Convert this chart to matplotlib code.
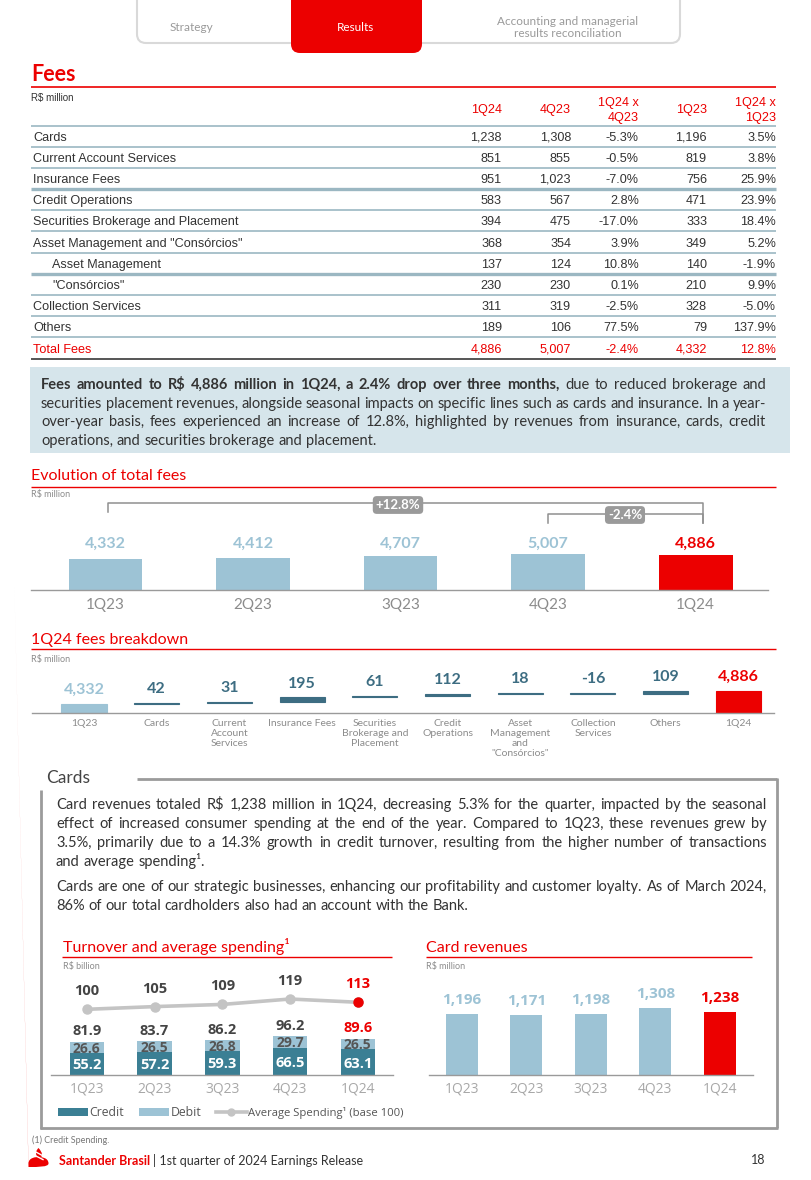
import matplotlib
matplotlib.use('Agg')
import matplotlib.pyplot as plt
from matplotlib.patches import FancyBboxPatch, Rectangle, Ellipse, PathPatch
from matplotlib.path import Path
from matplotlib import font_manager
import numpy as np

plt.rcParams['text.parse_math'] = False

# ------------------------------------------------------------------ data
table_cols = ['1Q24', '4Q23', '1Q24 x\n4Q23', '1Q23', '1Q24 x\n1Q23']
table_rows = ['Cards', 'Current Account Services', 'Insurance Fees', 'Credit Operations',
              'Securities Brokerage and Placement', 'Asset Management and "Consórcios"',
              'Asset Management', '"Consórcios"', 'Collection Services', 'Others', 'Total Fees']
row_indent = [0, 0, 0, 0, 0, 0, 1, 1, 0, 0, 0]
fees_1q24 = [1238, 851, 951, 583, 394, 368, 137, 230, 311, 189, 4886]
fees_4q23 = [1308, 855, 1023, 567, 475, 354, 124, 230, 319, 106, 5007]
var_qoq = [-5.3, -0.5, -7.0, 2.8, -17.0, 3.9, 10.8, 0.1, -2.5, 77.5, -2.4]
fees_1q23 = [1196, 819, 756, 471, 333, 349, 140, 210, 328, 79, 4332]
var_yoy = [3.5, 3.8, 25.9, 23.9, 18.4, 5.2, -1.9, 9.9, -5.0, 137.9, 12.8]

evo_quarters = ['1Q23', '2Q23', '3Q23', '4Q23', '1Q24']
evo_values = [4332, 4412, 4707, 5007, 4886]
evo_yoy_label = '+12.8%'
evo_qoq_label = '-2.4%'

bd_labels = ['1Q23', 'Cards', 'Current\nAccount\nServices', 'Insurance Fees',
             'Securities\nBrokerage and\nPlacement', 'Credit\nOperations',
             'Asset\nManagement\nand\n"Consórcios"', 'Collection\nServices', 'Others', '1Q24']
bd_start = 4332
bd_deltas = [42, 31, 195, 61, 112, 18, -16, 109]
bd_end = 4886

turn_quarters = ['1Q23', '2Q23', '3Q23', '4Q23', '1Q24']
turn_credit = [55.2, 57.2, 59.3, 66.5, 63.1]
turn_debit = [26.6, 26.5, 26.8, 29.7, 26.5]
turn_total = [81.9, 83.7, 86.2, 96.2, 89.6]
avg_spending = [100, 105, 109, 119, 113]

rev_quarters = ['1Q23', '2Q23', '3Q23', '4Q23', '1Q24']
card_revenues = [1196, 1171, 1198, 1308, 1238]

# ------------------------------------------------------------------ style
W, H = 812, 1180
RED = '#ec0000'
LIGHT = '#9dc3d5'
TEAL = '#3b7f94'
DTEAL = '#3d6d82'
GRAYTXT = '#8c8c8c'
TXT = '#333333'

_names = {f.name for f in font_manager.fontManager.ttflist}
if 'Liberation Sans Narrow' in _names:
    NARROW, TSIZE = 'Liberation Sans Narrow', 10.2
else:
    NARROW, TSIZE = 'Liberation Sans', 9.1
HEAD = 'Lato'
BODY = 'Lato'
NUM = 'Open Sans'

fig = plt.figure(figsize=(W / 100, H / 100), dpi=100)
fig.patch.set_facecolor('white')
ov = fig.add_axes([0, 0, 1, 1])
ov.set_xlim(0, W)
ov.set_ylim(H, 0)
ov.axis('off')
renderer = fig.canvas.get_renderer()


def T(x, y, s, size=9, color=TXT, ha='left', va='mid', weight='normal', family=BODY, **kw):
    # 'mid' = baseline placed so that the cap/digit height is centred on y
    if va == 'mid':
        y = y + size * 100 / 72 * 0.36
        va = 'baseline'
    return ov.text(x, y, s, fontsize=size, color=color, ha=ha, va=va, fontweight=weight,
                   family=family, **kw)


def hline(x0, x1, y, color, lw=1.0):
    ov.plot([x0, x1], [y, y], color=color, lw=lw, solid_capstyle='butt')


def vline(x, y0, y1, color, lw=1.0):
    ov.plot([x, x], [y0, y1], color=color, lw=lw, solid_capstyle='butt')


def ax_at(x0, y0, x1, y1):
    a = fig.add_axes([x0 / W, 1 - y1 / H, (x1 - x0) / W, (y1 - y0) / H])
    a.patch.set_visible(False)
    for s in ['top', 'right', 'left']:
        a.spines[s].set_visible(False)
    a.spines['bottom'].set_color('#9a9a9a')
    a.spines['bottom'].set_linewidth(1.0)
    a.set_yticks([])
    a.tick_params(axis='x', length=0)
    return a


def measure(s, size, weight, family):
    t = ov.text(0, 0, s, fontsize=size, fontweight=weight, family=family)
    w = t.get_window_extent(renderer).width
    t.remove()
    return w


def justify(lines, x0, x1, y0, dy, size, family=BODY, color=TXT):
    while True:
        sp = measure('a a', size, 'normal', family) - measure('aa', size, 'normal', family)
        ok = True
        for words in lines:
            tot = sum(measure(w, size, wt, family) for w, wt in words)
            if tot + 0.7 * sp * (len(words) - 1) > (x1 - x0):
                ok = False
                break
        if ok:
            break
        size -= 0.1
    for li, words in enumerate(lines):
        y = y0 + li * dy
        widths = [measure(w, size, wt, family) for w, wt in words]
        if li == len(lines) - 1:
            gap = sp
        else:
            gap = (x1 - x0 - sum(widths)) / max(1, len(words) - 1)
        x = x0
        for (w, wt), wd in zip(words, widths):
            T(x, y, w, size, color, weight=wt, family=family)
            x += wd + gap


def words_of(s, weight='normal'):
    return [(w, weight) for w in s.split()]


# ------------------------------------------------------------------ header tabs
ov.add_patch(FancyBboxPatch((137, -14), 543, 57, boxstyle='round,pad=0,rounding_size=9',
                            fc='white', ec='#d9d9d9', lw=1.5))
ov.add_patch(FancyBboxPatch((291, -14), 131, 67, boxstyle='round,pad=0,rounding_size=9',
                            fc=RED, ec='none'))
T(191, 27, 'Strategy', 8.5, '#9a9a9a', ha='center')
T(356, 27, 'Results', 8.5, 'white', ha='center')
T(568, 21, 'Accounting and managerial', 8.5, '#9a9a9a', ha='center')
T(568, 33, 'results reconciliation', 8.5, '#9a9a9a', ha='center')

# ------------------------------------------------------------------ table
T(31, 73, 'Fees', 15.5, RED, weight='bold', family=HEAD)
hline(31, 776, 86.5, RED, 1.2)
T(31, 97, 'R$ million', 7, TXT, family=NARROW)
col_right = [502, 571, 639, 707, 776]
for c, r in zip(table_cols, col_right):
    parts = c.split('\n')
    if len(parts) == 1:
        T(r, 108.5, parts[0], TSIZE, RED, ha='right', family=NARROW)
    else:
        T(r, 101, parts[0], TSIZE, RED, ha='right', family=NARROW)
        T(r, 116, parts[1], TSIZE, RED, ha='right', family=NARROW)
hline(31, 776, 125.5, '#9bb7c2', 1.2)
ry0, rdy = 136, 21.2
for i, lab in enumerate(table_rows):
    y = ry0 + i * rdy
    col = RED if i == len(table_rows) - 1 else TXT
    T(33 + 19 * row_indent[i], y, lab, TSIZE, col, family=NARROW)
    vals = [f'{fees_1q24[i]:,}', f'{fees_4q23[i]:,}', f'{var_qoq[i]:.1f}%',
            f'{fees_1q23[i]:,}', f'{var_yoy[i]:.1f}%']
    for v, r in zip(vals, col_right):
        T(r, y, v, TSIZE, col, ha='right', family=NARROW)
    if i < len(table_rows) - 1:
        lw = 2.4 if i in (2, 6) else 1.2
        hline(31, 776, y + rdy / 2, '#9bb7c2', lw)
hline(31, 776, ry0 + 10.5 * rdy, '#555555', 1.4)

# ------------------------------------------------------------------ blue box text
ov.add_patch(Rectangle((30, 367), 760, 86, fc='#d6e5eb', ec='none'))
box_lines = [
    words_of('Fees amounted to R$ 4,886 million in 1Q24, a 2.4% drop over three months,', 'bold')
    + words_of('due to reduced brokerage and'),
    words_of('securities placement revenues, alongside seasonal impacts on specific lines such '
             'as cards and insurance. In a year-'),
    words_of('over-year basis, fees experienced an increase of 12.8%, highlighted by revenues '
             'from insurance, cards, credit'),
    words_of('operations, and securities brokerage and placement.'),
]
justify(box_lines, 41, 766, 384, 18.5, 10.5)

# ------------------------------------------------------------------ evolution of total fees
T(31, 474, 'Evolution of total fees', 11.5, RED, family=HEAD)
hline(31, 776, 486.5, RED, 1.0)
T(31, 494, 'R$ million', 6.5, GRAYTXT)
ax1 = ax_at(31, 500, 768, 590)
x = np.arange(len(evo_values))
cols = [LIGHT] * (len(evo_values) - 1) + [RED]
ax1.bar(x, evo_values, width=0.5, color=cols)
ax1.set_xlim(-0.505, 4.49)
ax1.set_ylim(143, 143 + 90 / 0.0074)
for i, v in enumerate(evo_values):
    ax1.text(i, 0.53, f'{v:,}', transform=ax1.get_xaxis_transform(), ha='center',
             va='center_baseline', fontsize=11.5, fontweight='bold', color=cols[i], family=HEAD)
ax1.set_xticks(x, evo_quarters)
ax1.tick_params(axis='x', pad=6, labelsize=11, labelcolor=GRAYTXT)
for t in ax1.get_xticklabels():
    t.set_family(HEAD)
# brackets
BR = '#8f8f8f'
ov.plot([108, 108, 703, 703], [512, 503, 503, 523], color=BR, lw=1.1)
ov.plot([548, 548, 703, 703], [523, 514, 514, 523], color=BR, lw=1.1)
ov.text(398, 505, evo_yoy_label, fontsize=9.5, color='white', ha='center', va='center',
        fontweight='bold', family=HEAD,
        bbox=dict(boxstyle='round,pad=0.22,rounding_size=0.3', fc='#9a9a9a', ec='none'))
ov.text(625, 515, evo_qoq_label, fontsize=9.5, color='white', ha='center', va='center',
        fontweight='bold', family=HEAD,
        bbox=dict(boxstyle='round,pad=0.22,rounding_size=0.3', fc='#9a9a9a', ec='none'))

# ------------------------------------------------------------------ breakdown waterfall
T(31, 638, '1Q24 fees breakdown', 11.5, RED, family=HEAD)
hline(31, 776, 648.5, RED, 1.0)
T(31, 659, 'R$ million', 6.5, GRAYTXT)
ax2 = ax_at(32, 663, 774, 713)
n = len(bd_labels)
cum = np.concatenate([[bd_start], bd_start + np.cumsum(bd_deltas)])
bottoms = [0] + list(cum[:-1]) + [0]
heights = [bd_start] + list(bd_deltas) + [bd_end]
bcols = [LIGHT] + [DTEAL] * len(bd_deltas) + [RED]
xb = np.arange(n)
ax2.bar(xb, heights, bottom=bottoms, width=0.62, color=bcols, edgecolor=bcols, linewidth=0.8)
ax2.set_xlim(-0.715, 9.49)
ax2.set_ylim(3911, 3911 + 50 / 0.02256)
for i in range(n):
    top = max(bottoms[i], bottoms[i] + heights[i])
    ax2.annotate(f'{heights[i]:,}', (i, top), xytext=(0, 11), textcoords='offset points',
                 ha='center', va='center_baseline', fontsize=11.5, fontweight='bold',
                 color=bcols[i], family=HEAD, annotation_clip=False)
ax2.set_xticks(xb, bd_labels)
ax2.tick_params(axis='x', pad=4, labelsize=7.5, labelcolor=GRAYTXT)
for t in ax2.get_xticklabels():
    t.set_family(HEAD)
    t.set_linespacing(1.15)

# ------------------------------------------------------------------ cards section
BOXC = '#9b9b9b'
T(46, 777, 'Cards', 12.5, '#444444', family=HEAD)
hline(137, 777, 779, BOXC, 2)
vline(777, 778, 1128, BOXC, 2)
hline(40, 778, 1128, BOXC, 2)
vline(41, 790, 1129, BOXC, 2)
p1 = [
    words_of('Card revenues totaled R$ 1,238 million in 1Q24, decreasing 5.3% for the quarter, '
             'impacted by the seasonal'),
    words_of('effect of increased consumer spending at the end of the year. Compared to 1Q23, '
             'these revenues grew by'),
    words_of('3.5%, primarily due to a 14.3% growth in credit turnover, resulting from the higher '
             'number of transactions'),
    words_of('and average spending¹.'),
]
justify(p1, 56, 767, 803.5, 19, 10.5)
p2 = [
    words_of('Cards are one of our strategic businesses, enhancing our profitability and customer '
             'loyalty. As of March 2024,'),
    words_of('86% of our total cardholders also had an account with the Bank.'),
]
justify(p2, 56, 767, 885.5, 19, 10.5)

# ------------------------------------------------------------------ turnover chart
T(63, 946, 'Turnover and average spending¹', 11.5, RED, family=HEAD)
hline(62, 392, 957, RED, 1.0)
T(63, 966, 'R$ billion', 6.5, GRAYTXT)
ax3 = ax_at(51, 975, 393, 1075)
xt = np.arange(len(turn_credit))
ax3.bar(xt, turn_credit, width=0.51, color=TEAL)
ax3.bar(xt, turn_debit, bottom=turn_credit, width=0.51, color=LIGHT)
ax3.set_xlim(-0.53, 4.52)
ax3.set_ylim(0, 100 / 0.407)
for i in range(len(xt)):
    ax3.text(i, turn_credit[i] / 2, f'{turn_credit[i]:.1f}', ha='center', va='center_baseline',
             fontsize=10.5, fontweight='bold', color='white', family=NUM)
    ax3.text(i, turn_credit[i] + turn_debit[i] / 2, f'{turn_debit[i]:.1f}', ha='center',
             va='center_baseline', fontsize=10, fontweight='bold', color='#555555', family=NUM)
    tc = RED if i == len(xt) - 1 else '#444444'
    ax3.annotate(f'{turn_total[i]:.1f}', (i, turn_credit[i] + turn_debit[i]), xytext=(0, 8.5),
                 textcoords='offset points', ha='center', va='center_baseline', fontsize=10.5,
                 fontweight='bold', color=tc, family=NUM, annotation_clip=False)
ax3.set_xticks(xt, turn_quarters)
ax3.tick_params(axis='x', pad=5, labelsize=10, labelcolor='#a8a8a8')
for t in ax3.get_xticklabels():
    t.set_family(NUM)
ax3b = ax3.twinx()
ax3b.patch.set_visible(False)
for s in ax3b.spines.values():
    s.set_visible(False)
ax3b.set_yticks([])
ax3b.set_ylim(-21.2, -21.2 + 100 / 0.542)
ax3b.plot(xt, avg_spending, color='#c4c4c4', lw=2.6, marker='o', ms=6.5, mfc='#c4c4c4',
          mec='#c4c4c4', zorder=3)
ax3b.plot(xt[-1:], avg_spending[-1:], ls='none', marker='o', ms=6.5, mfc=RED, mec=RED, zorder=4)
for i, v in enumerate(avg_spending):
    tc = RED if i == len(xt) - 1 else '#444444'
    ax3b.annotate(f'{v}', (i, v), xytext=(0, 14), textcoords='offset points', ha='center',
                  va='center_baseline', fontsize=10.5, fontweight='bold', color=tc, family=NUM,
                  annotation_clip=False)
# legend
ov.add_patch(Rectangle((58, 1108), 30, 8, fc=TEAL, ec='none'))
T(89, 1112, 'Credit', 8.8, '#555555', family=NUM)
ov.add_patch(Rectangle((139, 1108), 30, 8, fc=LIGHT, ec='none'))
T(171, 1112, 'Debit', 8.8, '#555555', family=NUM)
ov.plot([216, 247], [1112, 1112], color='#c4c4c4', lw=2.6)
ov.plot([231.5], [1112], marker='o', ms=5, color='#c4c4c4')
T(248, 1112, 'Average Spending¹ (base 100)', 8.1, '#555555', family=NUM)

# ------------------------------------------------------------------ card revenues chart
T(426, 946, 'Card revenues', 11.5, RED, family=HEAD)
hline(426, 752, 957, RED, 1.0)
T(426, 966, 'R$ million', 6.5, GRAYTXT)
ax4 = ax_at(429, 975, 753, 1075)
xr = np.arange(len(card_revenues))
rcols = [LIGHT] * (len(card_revenues) - 1) + [RED]
ax4.bar(xr, card_revenues, width=0.5, color=rcols)
ax4.set_xlim(-0.508, 4.515)
ax4.set_ylim(0, 100 / 0.05125)
for i, v in enumerate(card_revenues):
    ax4.annotate(f'{v:,}', (i, v), xytext=(0, 11), textcoords='offset points', ha='center',
                 va='center_baseline', fontsize=11, fontweight='bold', color=rcols[i],
                 family=NUM, annotation_clip=False)
ax4.set_xticks(xr, rev_quarters)
ax4.tick_params(axis='x', pad=5, labelsize=10, labelcolor='#a8a8a8')
for t in ax4.get_xticklabels():
    t.set_family(NUM)

# ------------------------------------------------------------------ footer
T(32, 1140, '(1) Credit Spending.', 6.5, '#777777')
# logo: base dome + flame with white stripes
ov.add_patch(PathPatch(Path([(28.5, 1163.5), (28.5, 1157.5), (36.0, 1157.0),
                             (38.5, 1157.0), (41.0, 1157.0), (48.5, 1157.5),
                             (48.5, 1163.5), (48.5, 1167.0), (38.5, 1167.0),
                             (28.5, 1167.0), (28.5, 1163.5)],
                            [Path.MOVETO, Path.CURVE4, Path.CURVE4, Path.CURVE4,
                             Path.CURVE4, Path.CURVE4, Path.CURVE4, Path.CURVE4,
                             Path.CURVE4, Path.CURVE4, Path.CURVE4]),
                       fc=RED, ec='none'))
ov.add_patch(PathPatch(Path([(38.5, 1148.0), (34.0, 1152.5), (36.5, 1156.5), (39.0, 1160.0),
                             (43.5, 1156.0), (42.5, 1152.5), (38.5, 1148.0)],
                            [Path.MOVETO, Path.CURVE4, Path.CURVE4, Path.CURVE4,
                             Path.CURVE4, Path.CURVE4, Path.CURVE4]),
                       fc=RED, ec='none'))
ov.plot([35.5, 42.5], [1151.8, 1155.6], color='white', lw=1.0)
ov.plot([35.0, 43.0], [1155.5, 1159.6], color='white', lw=1.0)
t1 = T(59, 1160.5, 'Santander Brasil', 9, RED, weight='bold', family=BODY)
w1 = t1.get_window_extent(renderer).width
T(59 + w1 + 3, 1160.5, '| 1st quarter of 2024 Earnings Release', 9, TXT, family=BODY)
T(758, 1159, '18', 9, TXT, ha='center', family=BODY)

fig.savefig('out.png', dpi=100, facecolor='white')
